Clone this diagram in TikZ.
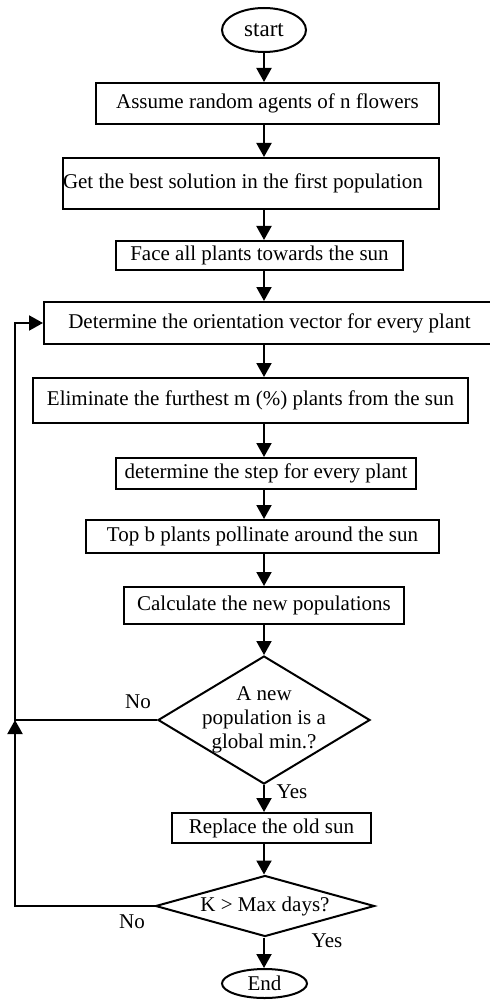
\documentclass[tikz,border=0pt]{standalone}
\usepackage{fontspec}
\setmainfont{Liberation Serif}
\usetikzlibrary{shapes.geometric, arrows.meta}

\tikzset{
    procbox/.style={draw, line width=1pt, rectangle, inner sep=0pt, align=center},
    termbox/.style={draw, line width=1pt, ellipse, inner sep=0pt},
    decbox/.style={draw, line width=1pt, diamond, inner sep=0pt},
    flow/.style={-{Triangle[length=7pt, width=7.5pt]}, line width=1pt},
    answer/.style={inner sep=0pt}
}

\begin{document}
\begin{tikzpicture}[x=0.5pt, y=-0.5pt, font=\fontsize{10.5}{12}\selectfont]

    % --- Canvas ---
    \useasboundingbox (0,0) rectangle (490,1000);
    \coordinate (axis) at (264,0);      % column of the main flow
    \coordinate (loopjoin) at (15,720); % return line on the left

    % --- Main column ---
    \node[termbox, minimum width=42pt, minimum height=22pt, font=\fontsize{11.5}{13}\selectfont] (start) at (264,30) {start};
    \node[procbox, minimum width=171.5pt, minimum height=20.5pt] (b1) at (267.5,103.5) {Assume random agents of n flowers};
    \node[procbox, text width=188pt, align=flush left, minimum height=25.5pt] (b2) at (251,183.5) {Get the best solution in the first population};
    \node[procbox, minimum width=143.5pt, minimum height=14.5pt] (b3) at (259.5,255.5) {Face all plants towards the sun};
    \node[procbox, minimum width=225.5pt, minimum height=21pt] (b4) at (269.5,323) {Determine the orientation vector for every plant};
    \node[procbox, minimum width=217.5pt, minimum height=22.5pt] (b5) at (250.5,400.5) {Eliminate the furthest m (\%) plants from the sun};
    \node[procbox, minimum width=150pt, minimum height=15.5pt] (b6) at (266,473.5) {determine the step for every plant};
    \node[procbox, minimum width=176.5pt, minimum height=16.5pt] (b7) at (262.5,536.5) {Top b plants pollinate around the sun};
    \node[procbox, minimum width=140pt, minimum height=18.5pt] (b8) at (264,605.5) {Calculate the new populations};

    % --- Decisions ---
    \node[decbox, minimum width=106pt, minimum height=64pt,
          label={[align=center, inner sep=0pt]center:A new\\population is a\\global min.?}] (d1) at (264,720) {};
    \node[procbox, minimum width=99.5pt, minimum height=15pt] (b9) at (271.5,828) {Replace the old sun};
    \node[decbox, minimum width=109.5pt, minimum height=30.5pt,
          label={[inner sep=0pt]center:K > Max days?}] (d2) at (265,906) {};
    \node[termbox, minimum width=42.5pt, minimum height=14.5pt] (end) at (264.5,983.5) {End};

    % --- Connectors ---
    \foreach \a/\b in {start/b1, b1/b2, b2/b3, b3/b4, b4/b5, b5/b6, b6/b7, b7/b8, b8/d1, d1/b9, b9/d2, d2/end}
        \draw[flow] (\a.south -| axis) -- (\b.north -| axis);

    % Return loops
    \draw[flow] (d2.west) -| (loopjoin);
    \draw[flow] (d1.west) -- (loopjoin) |- (b4.west);

    % Answers
    \node[answer] (no1) at (138,702) {No};
    \node[answer] (yes1) at (292,792) {Yes};
    \node[answer] (no2) at (132,922) {No};
    \node[answer] (yes2) at (327,941) {Yes};

\end{tikzpicture}
\end{document}
